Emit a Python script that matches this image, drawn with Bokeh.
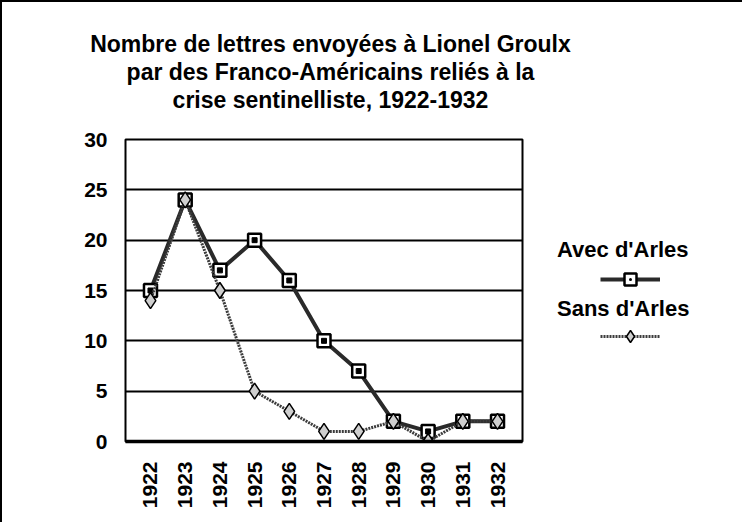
from math import pi
from bokeh.plotting import figure
from bokeh.layouts import row, column
from bokeh.models import Range1d, FixedTicker, Legend, LegendItem, Label
from bokeh.embed import file_html
from bokeh.resources import INLINE

# ---- data ----
years = [1922, 1923, 1924, 1925, 1926, 1927, 1928, 1929, 1930, 1931, 1932]
avec_arles = [15, 24, 17, 20, 16, 10, 7, 2, 1, 2, 2]
sans_arles = [14, 24, 15, 5, 3, 1, 1, 2, 0, 2, 2]
y_ticks = [0, 5, 10, 15, 20, 25, 30]
title_lines = ["Nombre de lettres envoyées à Lionel Groulx",
               "par des Franco-Américains reliés à la",
               "crise sentinelliste, 1922-1932"]
series_names = ["Avec d'Arles", "Sans d'Arles"]

FONT = "Liberation Sans"


def bare(fig):
    fig.outline_line_color = None
    fig.grid.grid_line_color = None
    fig.background_fill_color = "white"
    fig.border_fill_color = "white"


# ---------------- title strip ----------------
t = figure(width=740, height=118, output_backend="svg", toolbar_location=None,
           x_axis_location=None, y_axis_location=None,
           x_range=Range1d(0, 1), y_range=Range1d(0, 1),
           min_border_left=0, min_border_right=0, min_border_top=0,
           min_border_bottom=0)
bare(t)
for line, yb in zip(title_lines, [77, 49, 21]):
    t.add_layout(Label(x=328, y=yb, x_units="screen", y_units="screen", text=line,
                       text_align="center", text_baseline="alphabetic",
                       text_font=FONT, text_font_style="bold",
                       text_font_size="23px", text_color="black"))

# ---------------- main chart ----------------
p = figure(width=553, height=402, output_backend="svg", toolbar_location=None,
           x_range=Range1d(1921.28, 1932.72), y_range=Range1d(0, 30),
           min_border_left=123, min_border_top=19, min_border_right=33,
           min_border_bottom=81)

p.background_fill_color = "white"
p.border_fill_color = "white"
p.outline_line_color = "black"
p.outline_line_width = 2

p.xaxis.ticker = FixedTicker(ticks=years)
p.xaxis.major_label_orientation = pi / 2
p.xaxis.major_label_text_font = FONT
p.xaxis.major_label_text_font_style = "bold"
p.xaxis.major_label_text_font_size = "21px"
p.xaxis.major_label_text_color = "black"
p.xaxis.major_label_standoff = 20
p.xaxis.major_tick_out = 0
p.xaxis.major_tick_in = 0
p.xaxis.minor_tick_out = 0
p.xaxis.minor_tick_in = 0
p.xaxis.axis_line_color = "black"
p.xaxis.axis_line_width = 3.5

p.yaxis.ticker = FixedTicker(ticks=y_ticks)
p.yaxis.major_label_text_font = FONT
p.yaxis.major_label_text_font_style = "bold"
p.yaxis.major_label_text_font_size = "21px"
p.yaxis.major_label_text_color = "black"
p.yaxis.major_label_standoff = 18
p.yaxis.major_tick_out = 0
p.yaxis.major_tick_in = 0
p.yaxis.minor_tick_out = 0
p.yaxis.minor_tick_in = 0
p.yaxis.axis_line_color = None

p.xgrid.grid_line_color = None
p.ygrid.ticker = FixedTicker(ticks=y_ticks)
p.ygrid.grid_line_color = "black"
p.ygrid.grid_line_width = 2

AVEC_LINE = dict(line_color="#2a2a2a", line_width=4)
AVEC_MARK = dict(marker="square_dot", size=13, fill_color="white",
                 line_color="black", line_width=2.5)
SANS_LINE = dict(line_color="#3c3c3c", line_width=3, line_dash="2 1")
SANS_MARK = dict(marker="diamond", size=16, fill_color="#cfcfcf",
                 line_color="black", line_width=1.5)

p.line(years, avec_arles, **AVEC_LINE)
p.scatter(years, avec_arles, **AVEC_MARK)
p.scatter(years, avec_arles, marker="square", size=5, fill_color="black",
          line_color="black")
p.line(years, sans_arles, **SANS_LINE)
p.scatter(years, sans_arles, **SANS_MARK)

# ---------------- legend panel ----------------
q = figure(width=185, height=402, output_backend="svg", toolbar_location=None,
           x_axis_location=None, y_axis_location=None,
           min_border_left=0, min_border_right=0, min_border_top=0,
           min_border_bottom=0)
bare(q)

ql1 = q.line(years, avec_arles, visible=False, **AVEC_LINE)
qm1 = q.scatter(years, avec_arles, visible=False, **AVEC_MARK)
ql2 = q.line(years, sans_arles, visible=False, **SANS_LINE)
qm2 = q.scatter(years, sans_arles, visible=False, **SANS_MARK)

legend_symbols = Legend(items=[LegendItem(label=" ", renderers=[ql1, qm1]),
                               LegendItem(label=" ", renderers=[ql2, qm2])],
                        location=(45, 90), orientation="vertical",
                        glyph_width=60, glyph_height=30, label_height=30,
                        label_width=0, label_standoff=0, spacing=27,
                        padding=0, margin=0, border_line_color=None,
                        background_fill_alpha=0, inactive_fill_alpha=0,
                        label_text_font_size="1px")

legend_texts = Legend(items=[LegendItem(label=series_names[0], renderers=[ql1]),
                             LegendItem(label=series_names[1], renderers=[ql2])],
                      location=(2, 119), orientation="vertical",
                      glyph_width=0, glyph_height=26, label_height=26,
                      label_width=0, label_standoff=0, spacing=33,
                      padding=0, margin=0, border_line_color=None,
                      background_fill_alpha=0, inactive_fill_alpha=0,
                      label_text_font=FONT, label_text_font_style="bold",
                      label_text_font_size="22px", label_text_color="black")

q.add_layout(legend_symbols, "center")
q.add_layout(legend_texts, "center")

layout = column(t, row(p, q, spacing=0), spacing=0,
                styles={"border-left": "2px solid black", "border-top": "2px solid black"})

open("out.html", "w").write(file_html(layout, INLINE))
